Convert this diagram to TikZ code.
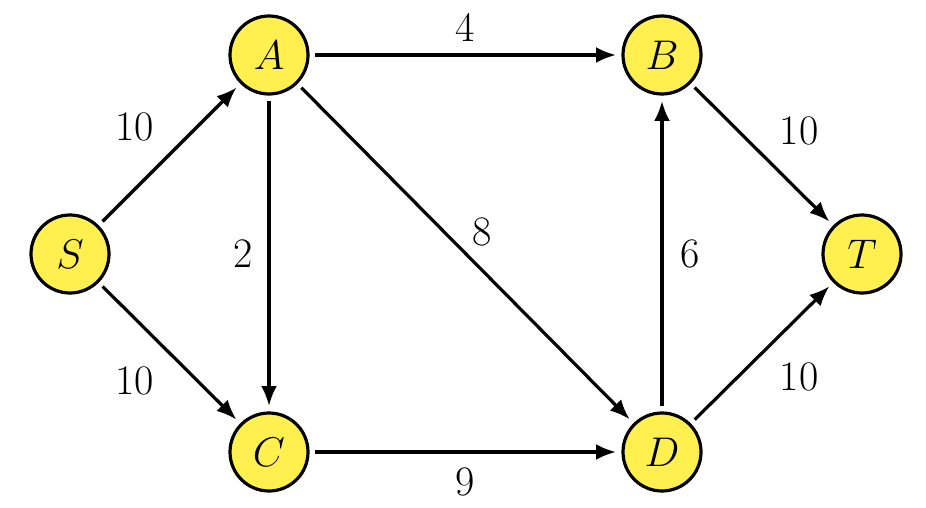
\documentclass[tikz,border=0pt]{standalone}
\usepackage{tikz}
\usetikzlibrary{arrows.meta}
\definecolor{vertexyellow}{RGB}{255,240,80}

\begin{document}
\begin{tikzpicture}[
  x=0.5pt, y=-0.5pt,
  vertex/.style={circle, draw, line width=1.6pt, fill=vertexyellow, minimum size=39pt,
                 inner sep=0pt, outer sep=3.5pt, font=\fontsize{21}{25}\selectfont},
  arr/.style={-{Latex[length=10pt,width=8pt]}, line width=1.6pt},
  wt/.style={font=\fontsize{21}{25}\selectfont, midway}
]
  \useasboundingbox (0,0) rectangle (926,508);

  \node[vertex] (S) at (70,254)  {$S$};
  \node[vertex] (A) at (269,55)  {$A$};
  \node[vertex] (B) at (662,55)  {$B$};
  \node[vertex] (C) at (269,452) {$C$};
  \node[vertex] (D) at (662,452) {$D$};
  \node[vertex] (T) at (862,254) {$T$};

  \draw[arr] (S) -- (A) node[wt, xshift=-17.5pt, yshift=14pt] {10};
  \draw[arr] (S) -- (C) node[wt, xshift=-17.5pt, yshift=-14pt] {10};
  \draw[arr] (A) -- (B) node[wt, yshift=14pt] {4};
  \draw[arr] (A) -- (C) node[wt, xshift=-13pt] {2};
  \draw[arr] (A) -- (D) node[wt, xshift=8.5pt, yshift=11pt] {8};
  \draw[arr] (C) -- (D) node[wt, yshift=-15pt] {9};
  \draw[arr] (D) -- (B) node[wt, xshift=14pt] {6};
  \draw[arr] (B) -- (T) node[wt, xshift=18.5pt, yshift=12pt] {10};
  \draw[arr] (D) -- (T) node[wt, xshift=18.5pt, yshift=-12pt] {10};
\end{tikzpicture}
\end{document}
